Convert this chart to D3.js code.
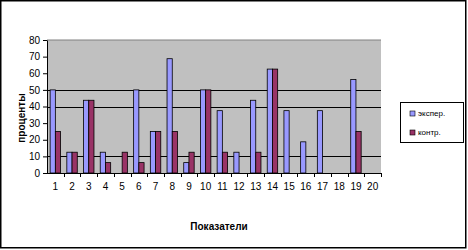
<!DOCTYPE html>
<html>
<head>
<meta charset="utf-8">
<script src="https://cdn.jsdelivr.net/npm/d3@7"></script>
<style>
  body { margin: 0; background: #fff; }
  text { font-family: "Liberation Sans", Arial, sans-serif; }
</style>
</head>
<body>
<svg width="468" height="250"></svg>
<script>
// data
var categories = ["1","2","3","4","5","6","7","8","9","10","11","12","13","14","15","16","17","18","19","20"];
var seriesNames = ["экспер.", "контр."];
var experValues = [50, 12.5, 43.75, 12.5, 0, 50, 25, 68.75, 6.25, 50, 37.5, 12.5, 43.75, 62.5, 37.5, 18.75, 37.5, 0, 56.25, 0];
var kontrValues = [25, 12.5, 43.75, 6.25, 12.5, 6.25, 25, 25, 12.5, 50, 12.5, 0, 12.5, 62.5, 0, 0, 0, 0, 25, 0];
var yTicks = [0, 10, 20, 30, 40, 50, 60, 70, 80];
var gridValues = [10, 40, 50];
var colors = ["#9999ff", "#993366"];

var svg = d3.select("svg");

var plot = { left: 47, right: 381, top: 40, bottom: 173 };

// outer chart border
svg.append("rect")
  .attr("x", 0.75).attr("y", 0.75)
  .attr("width", 465).attr("height", 247)
  .attr("fill", "none")
  .attr("stroke", "#000")
  .attr("stroke-width", 1.5);

var x = d3.scaleBand()
  .domain(categories)
  .range([plot.left, plot.right])
  .padding(0);

var xs = d3.scaleBand()
  .domain(seriesNames)
  .range([0, x.bandwidth()])
  .paddingInner(0)
  .paddingOuter(0.6);

var y = d3.scaleLinear()
  .domain([0, 80])
  .range([plot.bottom, plot.top]);

// plot area
svg.append("rect")
  .attr("x", plot.left).attr("y", plot.top)
  .attr("width", plot.right - plot.left)
  .attr("height", plot.bottom - plot.top)
  .attr("fill", "#c0c0c0");

svg.append("line")
  .attr("x1", plot.left).attr("x2", plot.right)
  .attr("y1", y(80)).attr("y2", y(80))
  .attr("stroke", "#808080");

svg.selectAll("line.grid")
  .data(gridValues)
  .enter()
  .append("line")
  .attr("class", "grid")
  .attr("x1", plot.left).attr("x2", plot.right)
  .attr("y1", function (d) { return Math.round(y(d)) + 0.5; })
  .attr("y2", function (d) { return Math.round(y(d)) + 0.5; })
  .attr("stroke", "#000");

// bars
var rows = categories.map(function (c, i) {
  return { cat: c, vals: [experValues[i], kontrValues[i]] };
});

var groups = svg.selectAll("g.cat")
  .data(rows)
  .enter()
  .append("g")
  .attr("class", "cat")
  .attr("transform", function (d) { return "translate(" + x(d.cat) + ",0)"; });

groups.selectAll("rect")
  .data(function (d) {
    return d.vals.map(function (v, j) { return { s: seriesNames[j], v: v, j: j }; });
  })
  .enter()
  .filter(function (d) { return d.v > 0; })
  .append("rect")
  .attr("x", function (d) { return xs(d.s); })
  .attr("width", xs.bandwidth())
  .attr("y", function (d) { return y(d.v); })
  .attr("height", function (d) { return y(0) - y(d.v); })
  .attr("fill", function (d) { return colors[d.j]; })
  .attr("stroke", "#000")
  .attr("stroke-width", 0.8);

// y axis
var yAxis = d3.axisLeft(y)
  .tickValues(yTicks)
  .tickSize(4)
  .tickSizeOuter(0);

svg.append("g")
  .attr("transform", "translate(" + plot.left + ",0)")
  .call(yAxis)
  .call(function (g) {
    g.select(".domain").attr("stroke", "#000");
    g.selectAll(".tick line").attr("stroke", "#000");
    g.selectAll("text")
      .attr("x", -7)
      .attr("font-size", 10)
      .attr("font-family", "Liberation Sans, Arial, sans-serif")
      .attr("fill", "#000");
  });

// x axis: ticks between categories, labels centered
var xg = svg.append("g");

xg.append("line")
  .attr("x1", plot.left).attr("x2", plot.right)
  .attr("y1", plot.bottom + 0.5).attr("y2", plot.bottom + 0.5)
  .attr("stroke", "#000");

xg.selectAll("line.tick")
  .data(categories)
  .enter()
  .append("line")
  .attr("class", "tick")
  .attr("x1", function (d) { return Math.round(x(d) + x.bandwidth()) + 0.5; })
  .attr("x2", function (d) { return Math.round(x(d) + x.bandwidth()) + 0.5; })
  .attr("y1", plot.bottom)
  .attr("y2", plot.bottom + 4)
  .attr("stroke", "#000");

xg.selectAll("text")
  .data(categories)
  .enter()
  .append("text")
  .attr("x", function (d) { return x(d) + x.bandwidth() / 2; })
  .attr("y", 190)
  .attr("text-anchor", "middle")
  .attr("font-size", 10)
  .text(function (d) { return d; });

// axis titles
svg.append("text")
  .attr("x", 219)
  .attr("y", 230)
  .attr("text-anchor", "middle")
  .attr("font-size", 10)
  .attr("font-weight", "bold")
  .text("Показатели");

svg.append("text")
  .attr("transform", "translate(25,118) rotate(-90)")
  .attr("text-anchor", "middle")
  .attr("font-size", 10)
  .attr("font-weight", "bold")
  .text("проценты");

// legend
var legend = svg.append("g").attr("transform", "translate(400,102)");

legend.append("rect")
  .attr("x", 0.5).attr("y", 0.5)
  .attr("width", 63).attr("height", 40)
  .attr("fill", "#fff")
  .attr("stroke", "#000");

var items = legend.selectAll("g.item")
  .data(seriesNames)
  .enter()
  .append("g")
  .attr("class", "item")
  .attr("transform", function (d, i) { return "translate(10," + (9 + i * 19) + ")"; });

items.append("rect")
  .attr("width", 5).attr("height", 5)
  .attr("fill", function (d, i) { return colors[i]; })
  .attr("stroke", "#000")
  .attr("stroke-width", 0.6);

items.append("text")
  .attr("x", 8)
  .attr("y", 5)
  .attr("font-size", 8)
  .text(function (d) { return d; });
</script>
</body>
</html>
